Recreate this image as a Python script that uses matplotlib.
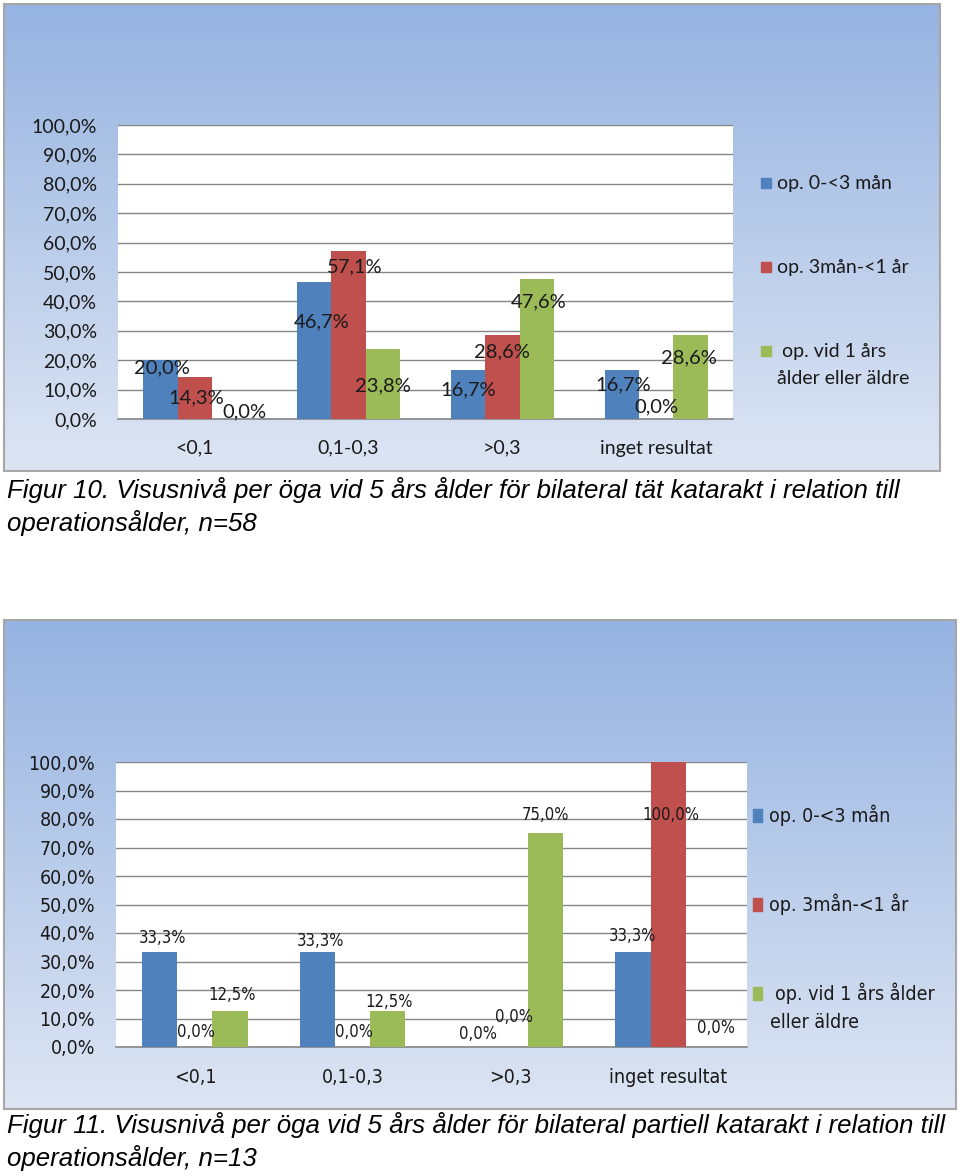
import numpy as np
import matplotlib.pyplot as plt
from matplotlib.patches import Rectangle
from matplotlib.colors import LinearSegmentedColormap

W, H = 960, 1176

categories = ['<0,1', '0,1-0,3', '>0,3', 'inget resultat']
series_labels = ['op. 0-<3 mån', 'op. 3mån-<1 år', 'op. vid 1 års ålder eller äldre']

# Figur 10, n=58
fig10_early = [20.0, 46.7, 16.7, 16.7]
fig10_mid = [14.3, 57.1, 28.6, 0.0]
fig10_late = [0.0, 23.8, 47.6, 28.6]

# Figur 11, n=13
fig11_early = [33.3, 33.3, 0.0, 33.3]
fig11_mid = [0.0, 0.0, 0.0, 100.0]
fig11_late = [12.5, 12.5, 75.0, 0.0]

# where the data labels sit (value axis units) and small x nudges (category units)
fig10_label_y = [[17.3, 33.0, 9.9, 11.6], [7.1, 51.7, 22.8, 4.1], [2.4, 11.2, 39.8, 20.7]]
fig10_label_dx = [[0.01, 0.045, 0.0, 0.01], [0.01, 0.04, 0.0, 0.0], [0.1, 0.0, 0.01, -0.01]]
fig11_label_y = [[38.2, 37.2, 4.6, 38.9], [5.3, 5.3, 10.5, 81.4], [18.2, 15.8, 81.4, 6.7]]
fig11_label_dx = [[0.02, 0.02, 0.02, 0.0], [0.01, 0.01, 0.02, 0.02], [0.01, 0.01, 0.0, 0.08]]

colors = ['#4f81bd', '#c0504d', '#9bbb59']
grad = LinearSegmentedColormap.from_list('bg', ['#95b3e1', '#dde5f3'])

font1 = ['Lato', 'DejaVu Sans']
font2 = ['DejaVu Sans']
cap_font = ['Liberation Sans', 'Arial', 'DejaVu Sans']


def rect(x0, y0, x1, y1):
    return [x0 / W, 1 - y1 / H, (x1 - x0) / W, (y1 - y0) / H]


def pct(v):
    return f'{v:.1f}'.replace('.', ',') + '%'


fig = plt.figure(figsize=(W / 100, H / 100), dpi=100)


def draw_chart(panel, plot, series, label_y, label_dx, family, stretch, tick_size, label_size,
               legend_sq, legend_x, legend_y, legend_lines, legend_size):
    bg = fig.add_axes(rect(*panel))
    bg.imshow(np.linspace(0, 1, 256).reshape(-1, 1), cmap=grad, aspect='auto',
              extent=[0, 1, 0, 1])
    bg.set_xticks([])
    bg.set_yticks([])
    for s in bg.spines.values():
        s.set_color('#a6a6a6')
        s.set_linewidth(1.5)

    ax = fig.add_axes(rect(*plot))
    ax.set_facecolor('white')
    x = np.arange(len(categories))
    bw = 0.223
    for i, vals in enumerate(series):
        xs = x + (i - 1) * bw
        ax.bar(xs, vals, width=bw, color=colors[i], zorder=3)
        for j, v in enumerate(vals):
            ax.text(xs[j] + label_dx[i][j], label_y[i][j], pct(v), ha='center', va='center',
                    fontsize=label_size, family=family, stretch=stretch,
                    color='#1a1a1a', zorder=4)
    ax.set_xlim(-0.5, len(categories) - 0.5)
    ax.set_ylim(0, 100)
    ax.set_yticks(range(0, 101, 10))
    ax.set_yticklabels([pct(v) for v in range(0, 101, 10)], family=family,
                       stretch=stretch, fontsize=tick_size)
    ax.set_xticks(x)
    ax.set_xticklabels(categories, family=family, stretch=stretch, fontsize=tick_size)
    ax.tick_params(length=0, pad=15, colors='#1a1a1a')
    ax.grid(axis='y', color='#868686', linewidth=1.0, zorder=1)
    for k in ['top', 'right', 'left']:
        ax.spines[k].set_visible(False)
    ax.spines['bottom'].set_color('#868686')
    ax.spines['bottom'].set_linewidth(1.2)

    sw, sh = legend_sq
    for i in range(3):
        fig.add_artist(Rectangle(((legend_x - sw - 5) / W, 1 - (legend_y[i] + sh / 2) / H),
                                 sw / W, sh / H, color=colors[i], transform=fig.transFigure))
    for (tx, ty, txt) in legend_lines:
        fig.text(tx / W, 1 - ty / H, txt, ha='left', va='center', family=family,
                 stretch=stretch, fontsize=legend_size, color='#1a1a1a')
    return ax


draw_chart((4, 4, 940, 471), (118, 125, 733, 419),
           [fig10_early, fig10_mid, fig10_late], fig10_label_y, fig10_label_dx,
           font1, 'normal', 14, 14.5, (10, 10), 776, [183, 267, 351],
           [(777, 183, series_labels[0]), (777, 267, series_labels[1]),
            (782, 351, 'op. vid 1 års'), (777, 378, 'ålder eller äldre')], 14)

draw_chart((4, 620, 956, 1109), (116, 762, 747, 1047),
           [fig11_early, fig11_mid, fig11_late], fig11_label_y, fig11_label_dx,
           font2, 'condensed', 14, 12, (9, 13), 767, [815, 904, 993],
           [(769, 815, series_labels[0]), (769, 904, series_labels[1]),
            (775, 993, 'op. vid 1 års ålder'), (770, 1022, 'eller äldre')], 14)

captions = [
    (498, 'Figur 10. Visusnivå per öga vid 5 års ålder för bilateral tät katarakt i relation till'),
    (531, 'operationsålder, n=58'),
    (1133, 'Figur 11. Visusnivå per öga vid 5 års ålder för bilateral partiell katarakt i relation till'),
    (1166, 'operationsålder, n=13'),
]
for y, txt in captions:
    fig.text(7 / W, 1 - y / H, txt, ha='left', va='baseline', family=cap_font,
             style='italic', fontsize=18.6, color='black')

fig.savefig('out.png', dpi=100)
